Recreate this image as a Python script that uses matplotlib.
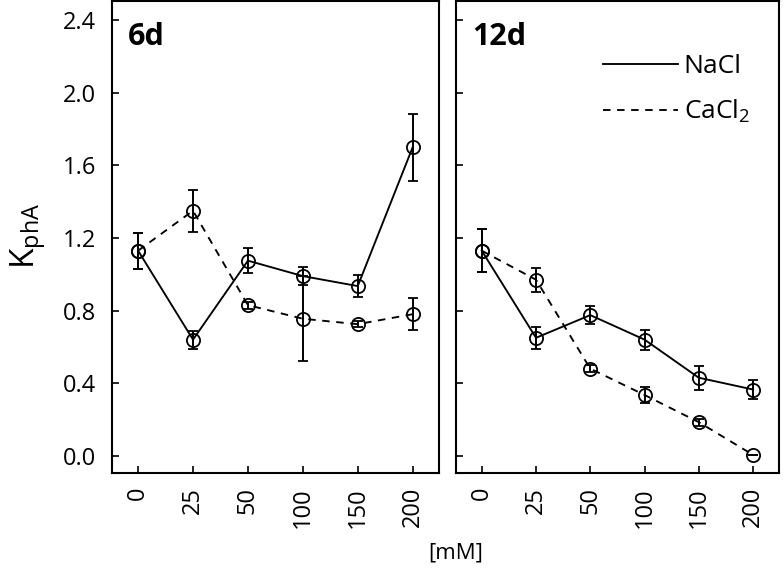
import matplotlib.pyplot as plt
import numpy as np

plt.rcParams['font.family'] = ['Open Sans', 'DejaVu Sans']

# концентрации (категории по оси x)
conc = ['0', '25', '50', '100', '150', '200']

# 6 суток
nacl_6d = [1.13, 0.64, 1.075, 0.99, 0.935, 1.70]
nacl_6d_err = [0.10, 0.05, 0.07, 0.05, 0.06, 0.185]
cacl_6d = [1.13, 1.35, 0.83, 0.755, 0.725, 0.78]
cacl_6d_err = [0.10, 0.115, 0.02, 0.233, 0.015, 0.088]

# 12 суток
nacl_12d = [1.13, 0.65, 0.775, 0.64, 0.43, 0.365]
nacl_12d_err = [0.12, 0.06, 0.05, 0.055, 0.065, 0.05]
cacl_12d = [1.13, 0.97, 0.48, 0.335, 0.185, 0.005]
cacl_12d_err = [0.12, 0.065, 0.02, 0.045, 0.02, 0.0]

yticks = [0.0, 0.4, 0.8, 1.2, 1.6, 2.0, 2.4]

DASH = (0, (4, 3.5))


def draw_panel(ax, nacl, nacl_err, cacl, cacl_err, title, show_ylabels):
    x = np.arange(len(conc))
    style = dict(color='black', marker='o', markersize=9.5, markerfacecolor='none',
                 markeredgewidth=1.3, linewidth=1.35, ecolor='black',
                 elinewidth=1.4, capsize=3.5, capthick=1.4)
    ax.errorbar(x, cacl, yerr=cacl_err, linestyle=DASH, label='CaCl$_2$', **style)
    ax.errorbar(x, nacl, yerr=nacl_err, linestyle='-', label='NaCl', **style)

    ax.set_xlim(-0.48, 5.48)
    ax.set_ylim(-0.095, 2.505)
    ax.set_xticks(x)
    ax.set_xticklabels(conc, rotation=90, fontsize=17)
    ax.set_yticks(yticks)
    if show_ylabels:
        ax.set_yticklabels(['%.1f' % v for v in yticks], fontsize=17)
    else:
        ax.set_yticklabels([])
    ax.tick_params(axis='y', direction='in', length=5, width=1.2, pad=11)
    ax.tick_params(axis='x', direction='in', length=5, width=1.2, pad=10)
    for sp in ax.spines.values():
        sp.set_linewidth(1.5)
    ax.text(0.05, 0.924, title, transform=ax.transAxes, fontsize=22,
            fontweight='bold', va='center', ha='left')


fig = plt.figure(figsize=(7.83, 5.69), dpi=100)
ax1 = fig.add_axes([0.1427, 0.1687, 0.418, 0.8293])
ax2 = fig.add_axes([0.582, 0.1687, 0.413, 0.8293])

draw_panel(ax1, nacl_6d, nacl_6d_err, cacl_6d, cacl_6d_err, '6d', True)
draw_panel(ax2, nacl_12d, nacl_12d_err, cacl_12d, cacl_12d_err, '12d', False)

fig.text(0.012, 0.585, 'K$_{\\mathregular{phA}}$', fontsize=24, rotation=90,
         ha='left', va='center')

# легенда только линиями, без маркеров
h_na = plt.Line2D([], [], color='black', linewidth=1.35, linestyle='-')
h_ca = plt.Line2D([], [], color='black', linewidth=1.35, linestyle=DASH)
leg = ax2.legend([h_na, h_ca], ['NaCl', 'CaCl$_\\mathregular{2}$'], loc='upper left',
                 bbox_to_anchor=(0.456, 0.888), frameon=False, fontsize=19,
                 handlelength=2.85, handletextpad=0.2, labelspacing=0.72,
                 borderaxespad=0, borderpad=0)

fig.text(0.582, 0.028, '[mM]', ha='center', va='center', fontsize=16)

fig.savefig('out.png', dpi=100)
